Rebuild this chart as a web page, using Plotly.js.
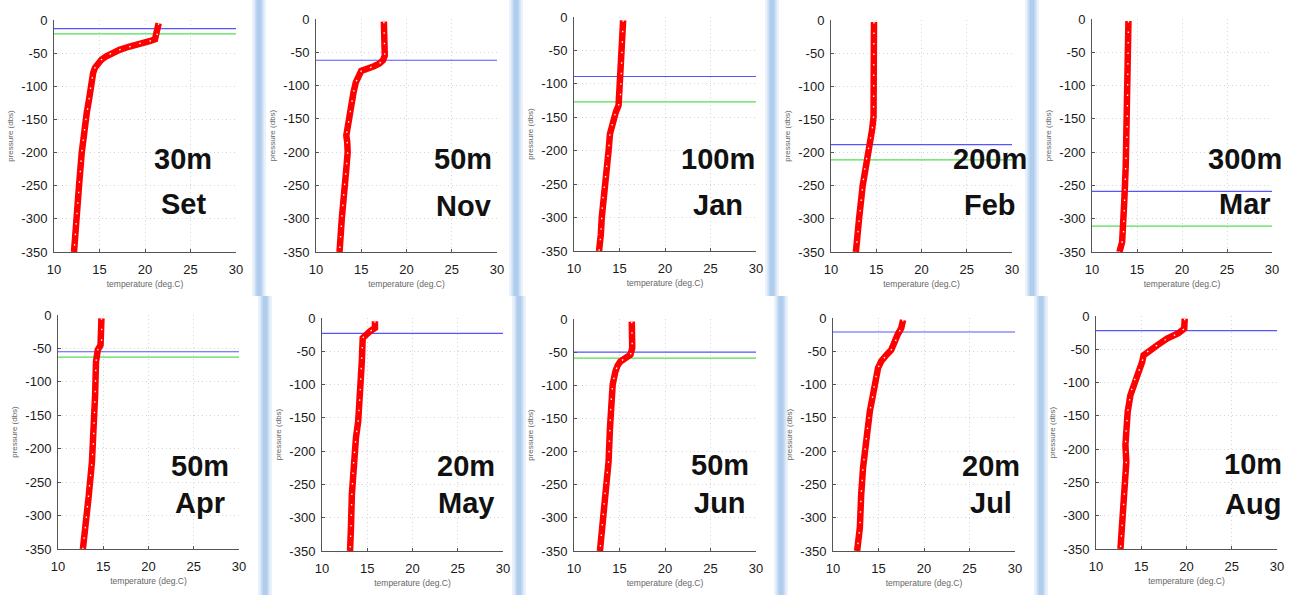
<!DOCTYPE html>
<html>
<head>
<meta charset="utf-8">
<script src="https://cdn.plot.ly/plotly-3.0.1.min.js"></script>
<style>
  html, body { margin: 0; padding: 0; background: #ffffff; }
  #chart { width: 1293px; height: 595px; }
</style>
</head>
<body>
<div id="chart"></div>
<script>
// ---------------- DATA ----------------
const months = ['Set', 'Nov', 'Jan', 'Feb', 'Mar', 'Apr', 'May', 'Jun', 'Jul', 'Aug'];
const depthLabels = ['30m', '50m', '100m', '200m', '300m', '50m', '20m', '50m', '20m', '10m'];

const xTicks = [10, 15, 20, 25, 30];
const yTicks = [0, -50, -100, -150, -200, -250, -300, -350];
const xRange = [10, 30];
const yRange = [-350, 0];

// pressure (dbar, negative downward) and temperature (deg C) profiles
const setP = [-5, -15, -25, -29, -32, -35, -40, -45, -50, -55, -60, -66, -72, -80, -90, -100, -120, -140, -160, -200, -250, -300, -350];
const setT = [21.5, 21.4, 21.3, 21.1, 20.5, 19.5, 18.3, 17.2, 16.3, 15.7, 15.2, 14.8, 14.5, 14.3, 14.15, 14.05, 13.85, 13.6, 13.4, 13.05, 12.75, 12.45, 12.2];

const novP = [-4, -20, -40, -55, -62, -67, -71, -75, -78, -85, -95, -110, -130, -150, -175, -185, -200, -225, -250, -300, -350];
const novT = [17.5, 17.55, 17.6, 17.6, 17.4, 17.0, 16.4, 15.6, 15.0, 14.75, 14.4, 14.15, 13.9, 13.65, 13.35, 13.45, 13.5, 13.35, 13.15, 12.85, 12.6];

const janP = [-5, -50, -90, -120, -132, -142, -155, -175, -200, -225, -250, -275, -300, -325, -350];
const janT = [15.4, 15.25, 15.2, 15.1, 14.9, 14.6, 14.3, 13.95, 13.8, 13.6, 13.35, 13.15, 13.05, 12.95, 12.75];

const febP = [-3, -70, -146, -165, -180, -190, -200, -210, -222, -250, -300, -350];
const febT = [14.75, 14.75, 14.7, 14.55, 14.35, 14.2, 14.05, 13.9, 13.75, 13.5, 13.1, 12.75];

const marP = [-3, -70, -170, -220, -270, -320, -335, -345, -350];
const marT = [14.05, 14.0, 13.9, 13.75, 13.6, 13.5, 13.35, 13.15, 13.05];

const aprP = [-5, -35, -45, -52, -60, -70, -120, -195, -220, -270, -320, -350];
const aprT = [14.8, 14.85, 14.7, 14.4, 14.3, 14.2, 14.1, 13.9, 13.75, 13.4, 13.0, 12.75];

const mayP = [-5, -15, -20, -25, -30, -65, -115, -155, -180, -215, -265, -315, -350];
const mayT = [15.85, 15.85, 15.3, 14.8, 14.5, 14.4, 14.2, 14.0, 13.75, 13.5, 13.3, 13.2, 13.1];

const junP = [-4, -44, -54, -59, -64, -70, -79, -99, -130, -165, -215, -265, -315, -350];
const junT = [16.35, 16.4, 16.2, 15.6, 15.1, 14.8, 14.55, 14.25, 14.05, 13.95, 13.8, 13.4, 13.1, 12.85];

const julP = [-3, -15, -25, -38, -48, -55, -65, -75, -95, -115, -140, -165, -190, -225, -265, -315, -350];
const julT = [17.7, 17.5, 17.1, 16.8, 16.4, 15.9, 15.3, 14.95, 14.6, 14.4, 14.05, 13.8, 13.6, 13.3, 13.1, 12.95, 12.65];

const augP = [-4, -19, -26, -34, -44, -54, -59, -69, -84, -99, -119, -144, -169, -194, -219, -244, -294, -350];
const augT = [19.8, 19.75, 19.1, 17.85, 16.75, 15.65, 15.25, 15.1, 14.7, 14.15, 13.8, 13.5, 13.35, 13.25, 13.35, 13.25, 13.0, 12.7];

// horizontal reference levels (dbar)
const blueLevels  = [-13, -62, -89, -188, -259, -55, -23, -50, -21, -22];
const greenLevels = [-21, null, -127, -211, -311, -63, null, -59, null, null];

// ---------------- LAYOUT ----------------
const W = 1293, H = 595;
const profiles = [
  [setP, setT], [novP, novT], [janP, janT], [febP, febT], [marP, marT],
  [aprP, aprT], [mayP, mayT], [junP, junT], [julP, julT], [augP, augT]
];
// pixel boxes of the plot areas: [left, right, top, bottom]
const boxes = [
  [54, 236, 20, 252], [316, 497, 19, 252], [574, 756, 17, 251], [831, 1012, 20, 252], [1092, 1272, 19, 252],
  [58, 239, 315, 549], [322, 503, 318, 551], [574, 756, 319, 551], [833, 1015, 318, 551], [1096, 1277, 316, 549]
];
// big label centers: [x, yFirstLine, ySecondLine]
const labelPos = [
  [183, 159, 204], [463, 159, 206], [718, 159, 205], [990, 159, 205], [1245, 159, 204],
  [200, 466, 503], [466, 466, 503], [720, 465, 503], [991, 466, 503], [1253, 464, 504]
];

const FONT = 'Liberation Sans, Arial, Helvetica, sans-serif';
const traces = [];
const layout = {
  width: W, height: H,
  margin: {l: 0, r: 0, t: 0, b: 0},
  paper_bgcolor: '#ffffff',
  plot_bgcolor: 'rgba(0,0,0,0)',
  showlegend: false,
  annotations: [],
  shapes: []
};

// light-blue separators of the composite picture
const sepTop = [259, 516, 772, 1032];
const sepBot = [265, 519, 781, 1041];
function addSep(xc, y0, y1) {
  [[7, 0.2], [4.5, 0.32], [2.5, 0.45]].forEach(([hw, op]) => {
    layout.shapes.push({
      type: 'rect', xref: 'paper', yref: 'paper', layer: 'below',
      x0: (xc - hw) / W, x1: (xc + hw) / W, y0: 1 - y1 / H, y1: 1 - y0 / H,
      fillcolor: '#8fb8e6', opacity: op, line: {width: 0}
    });
  });
}
sepTop.forEach(x => addSep(x, 0, 296));
sepBot.forEach(x => addSep(x, 296, 595));

profiles.forEach((pr, i) => {
  const n = i + 1;
  const xa = 'x' + (n === 1 ? '' : n);
  const ya = 'y' + (n === 1 ? '' : n);
  const [l, r, t, b] = boxes[i];

  layout['xaxis' + (n === 1 ? '' : n)] = {
    domain: [l / W, r / W], anchor: ya, range: xRange,
    tickvals: xTicks, ticktext: xTicks.map(String),
    ticks: 'inside', ticklen: 3, tickcolor: '#555',
    showline: true, linecolor: '#555', linewidth: 1,
    showgrid: true, gridcolor: '#d6d6d6', griddash: '1px,3px', gridwidth: 1,
    zeroline: false, automargin: false, fixedrange: true,
    ticklabelstandoff: 5,
    tickfont: {family: FONT, size: 13, color: '#1a1a1a'},
    title: {text: 'temperature (deg.C)', font: {family: FONT, size: 8.5, color: '#666'}, standoff: 5}
  };
  layout['yaxis' + (n === 1 ? '' : n)] = {
    domain: [1 - b / H, 1 - t / H], anchor: xa, range: yRange,
    tickvals: yTicks, ticktext: yTicks.map(String),
    ticks: 'inside', ticklen: 3, tickcolor: '#555',
    showline: true, linecolor: '#555', linewidth: 1,
    showgrid: true, gridcolor: '#d6d6d6', griddash: '1px,3px', gridwidth: 1,
    zeroline: false, automargin: false, fixedrange: true,
    ticklabelstandoff: 3,
    tickfont: {family: FONT, size: 13, color: '#1a1a1a'},
    title: {text: 'pressure (dbs)', font: {family: FONT, size: 8, color: '#666'}, standoff: 6}
  };

  if (blueLevels[i] !== null) {
    traces.push({x: xRange, y: [blueLevels[i], blueLevels[i]], xaxis: xa, yaxis: ya,
      mode: 'lines', line: {color: '#5555ff', width: 1.2}, hoverinfo: 'skip'});
  }
  if (greenLevels[i] !== null) {
    traces.push({x: xRange, y: [greenLevels[i], greenLevels[i]], xaxis: xa, yaxis: ya,
      mode: 'lines', line: {color: '#55dd55', width: 1.2}, hoverinfo: 'skip'});
  }
  traces.push({x: pr[1], y: pr[0], xaxis: xa, yaxis: ya, mode: 'lines',
    line: {color: '#ff0000', width: 6.5}, name: months[i]});
  traces.push({x: pr[1], y: pr[0], xaxis: xa, yaxis: ya, mode: 'lines',
    line: {color: '#ffffff', width: 1.3, dash: '1.5px,9px'}, hoverinfo: 'skip'});

  const [cx, y1, y2] = labelPos[i];
  layout.annotations.push({text: depthLabels[i], xref: 'paper', yref: 'paper',
    x: cx / W, y: 1 - y1 / H, xanchor: 'center', yanchor: 'middle', showarrow: false,
    font: {family: FONT, size: 29, color: '#111', weight: 'bold'}});
  layout.annotations.push({text: months[i], xref: 'paper', yref: 'paper',
    x: cx / W, y: 1 - y2 / H, xanchor: 'center', yanchor: 'middle', showarrow: false,
    font: {family: FONT, size: 29, color: '#111', weight: 'bold'}});
});

Plotly.newPlot('chart', traces, layout, {displayModeBar: false, staticPlot: true});
</script>
</body>
</html>
